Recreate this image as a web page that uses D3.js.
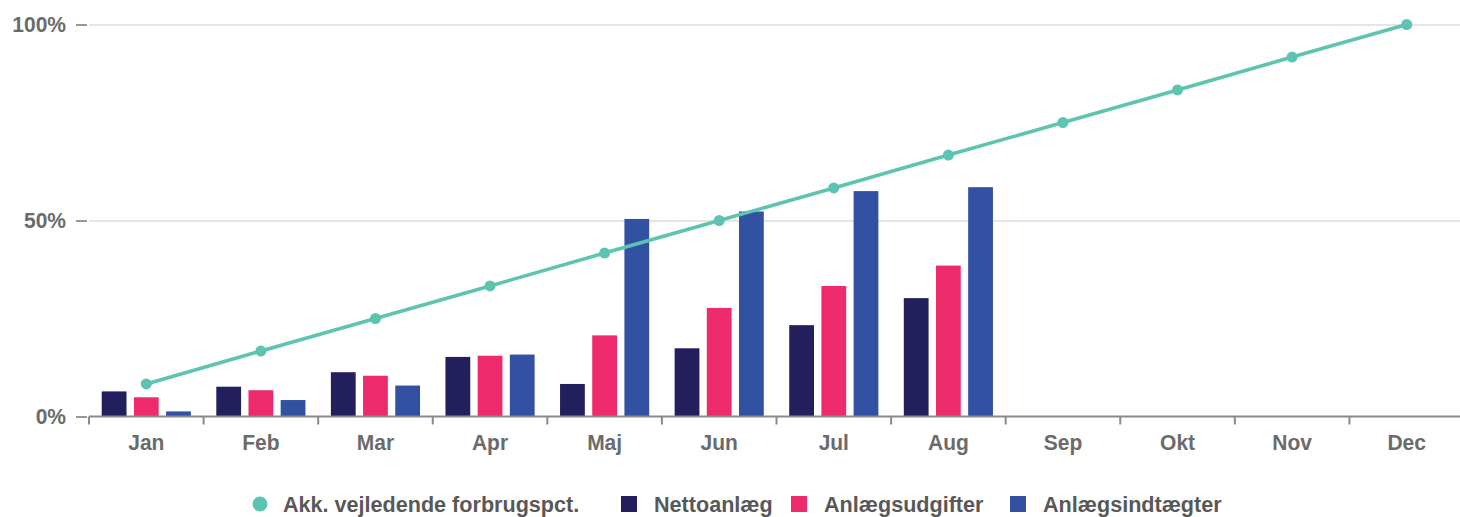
<!DOCTYPE html>
<html>
<head>
<meta charset="utf-8">
<script src="https://cdn.jsdelivr.net/npm/d3@7.9.0/dist/d3.min.js"></script>
<style>
  html, body { margin: 0; padding: 0; background: #fff; }
  svg { display: block; font-family: "Liberation Sans", Arial, sans-serif; }
</style>
</head>
<body>
<div id="chart"></div>
<script>
const months = ["Jan", "Feb", "Mar", "Apr", "Maj", "Jun", "Jul", "Aug", "Sep", "Okt", "Nov", "Dec"];

// Akk. vejledende forbrugspct. (line)
const guideline = [8.3, 16.7, 25, 33.3, 41.7, 50, 58.3, 66.7, 75, 83.3, 91.7, 100];

// bar series (only Jan-Aug reported)
const nettoanlaeg = [6.4, 7.6, 11.3, 15.2, 8.3, 17.4, 23.3, 30.2];
const anlaegsudgifter = [4.9, 6.7, 10.4, 15.5, 20.7, 27.7, 33.3, 38.5];
const anlaegsindtaegter = [1.3, 4.2, 7.9, 15.8, 50.4, 52.3, 57.5, 58.5];

const yTicks = [0, 50, 100];

const series = [
  { key: "Nettoanlæg", values: nettoanlaeg, color: "#231f5c" },
  { key: "Anlægsudgifter", values: anlaegsudgifter, color: "#ed2a6b" },
  { key: "Anlægsindtægter", values: anlaegsindtaegter, color: "#3351a3" },
];
const lineColor = "#5cc4b1";

const width = 1460;
const height = 517;

const svg = d3
  .select("#chart")
  .append("svg")
  .attr("width", width)
  .attr("height", height);

// Scales
const x = d3.scaleBand().domain(months).range([89, 1464]).padding(0);
const bw = x.bandwidth();
const x1 = d3
  .scaleBand()
  .domain(series.map((s) => s.key))
  .range([bw * 0.111, bw * 0.889])
  .paddingInner(0.23)
  .paddingOuter(0);
const y = d3.scaleLinear().domain([0, 100]).range([416.5, 24.5]);

// Gridlines
svg
  .append("g")
  .attr("transform", `translate(89, 0)`)
  .call(d3.axisLeft(y).tickValues([50, 100]).tickFormat("").tickSize(-(width - 89)))
  .call((g) => g.select(".domain").remove())
  .call((g) => g.selectAll("line").attr("stroke", "#e6e6e6").attr("stroke-width", 2));

// Y axis
svg
  .append("g")
  .attr("transform", `translate(87, 0)`)
  .call(d3.axisLeft(y).tickValues(yTicks).tickFormat((d) => d + "%").tickSize(11).tickPadding(10))
  .call((g) => g.select(".domain").remove())
  .call((g) => g.selectAll("line").attr("stroke", "#999").attr("stroke-width", 2))
  .call((g) =>
    g.selectAll("text")
      .attr("fill", "#6b6b6b")
      .attr("font-size", 21)
      .attr("font-weight", "bold")
      .attr("font-family", "Liberation Sans, Arial, sans-serif")
      .attr("transform", "scale(1, 1.08)")
  );

// Bars
const groups = svg
  .append("g")
  .selectAll("g")
  .data(series)
  .join("g")
  .attr("fill", (d) => d.color);

groups
  .selectAll("rect")
  .data((s) => s.values.map((v, i) => ({ key: s.key, month: months[i], value: v })))
  .join("rect")
  .attr("x", (d) => x(d.month) + x1(d.key))
  .attr("width", x1.bandwidth())
  .attr("y", (d) => y(d.value))
  .attr("height", (d) => y(0) - y(d.value));

// X axis line and boundary ticks
const xAxis = svg.append("g");
xAxis
  .append("line")
  .attr("x1", 89)
  .attr("x2", width)
  .attr("y1", y(0))
  .attr("y2", y(0))
  .attr("stroke", "#8a8a8a")
  .attr("stroke-width", 2);

xAxis
  .selectAll(".bound")
  .data(months)
  .join("line")
  .attr("class", "bound")
  .attr("x1", (d) => x(d))
  .attr("x2", (d) => x(d))
  .attr("y1", y(0))
  .attr("y2", y(0) + 8)
  .attr("stroke", "#8a8a8a")
  .attr("stroke-width", 2);

svg
  .append("g")
  .attr("transform", `translate(0, ${y(0)})`)
  .call(d3.axisBottom(x).tickSize(0).tickPadding(16))
  .call((g) => g.select(".domain").remove())
  .call((g) =>
    g.selectAll("text")
      .attr("fill", "#6b6b6b")
      .attr("font-size", 21)
      .attr("font-weight", "bold")
      .attr("font-family", "Liberation Sans, Arial, sans-serif")
      .attr("transform", "scale(1, 1.08)")
  );

// Guideline
const line = d3
  .line()
  .x((d, i) => x(months[i]) + bw / 2)
  .y((d) => y(d));

svg
  .append("path")
  .datum(guideline)
  .attr("d", line)
  .attr("fill", "none")
  .attr("stroke", lineColor)
  .attr("stroke-width", 3.5);

svg
  .append("g")
  .selectAll("circle")
  .data(guideline)
  .join("circle")
  .attr("cx", (d, i) => x(months[i]) + bw / 2)
  .attr("cy", (d) => y(d))
  .attr("r", 5.5)
  .attr("fill", lineColor);

// Legend (item x positions follow the reference layout)
const legendItems = [{ key: "Akk. vejledende forbrugspct.", color: lineColor, type: "circle", x: 252 }].concat(
  series.map((s, i) => ({ key: s.key, color: s.color, type: "square", x: [621, 791, 1010][i] }))
);

const legendY = 504;
const legend = svg
  .append("g")
  .selectAll("g")
  .data(legendItems)
  .join("g")
  .attr("transform", (d) => `translate(${d.x}, 0)`);

legend
  .filter((d) => d.type === "circle")
  .append("circle")
  .attr("cx", 8)
  .attr("cy", legendY)
  .attr("r", 7.5)
  .attr("fill", (d) => d.color);

legend
  .filter((d) => d.type === "square")
  .append("rect")
  .attr("y", legendY - 8)
  .attr("width", 16)
  .attr("height", 16)
  .attr("fill", (d) => d.color);

legend
  .append("text")
  .attr("transform", (d) => `translate(${d.type === "circle" ? 31 : 33}, ${legendY + 8}) scale(1, 1.04)`)
  .attr("fill", "#585858")
  .attr("font-size", 21.6)
  .attr("font-weight", "bold")
  .text((d) => d.key);
</script>
</body>
</html>
